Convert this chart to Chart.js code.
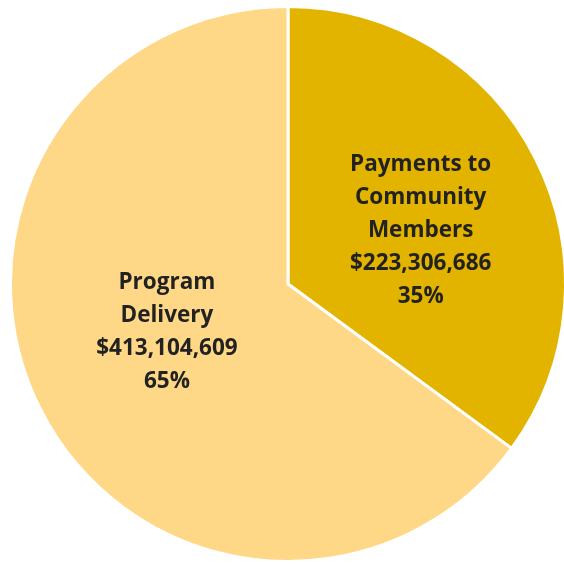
<!DOCTYPE html>
<html>
<head>
<meta charset="utf-8">
<script src="https://cdn.jsdelivr.net/npm/chart.js@4.4.0/dist/chart.umd.min.js"></script>
<style>
    html, body { margin: 0; padding: 0; background: #fff; overflow: hidden; width: 564px; height: 564px; }
    #wrap { position: absolute; left: 0; top: 0; width: 576px; height: 568px; }
</style>
</head>
<body>
<div id="wrap"><canvas id="pieChart"></canvas></div>
<script>
// 数据
const categories = [['Payments to', 'Community', 'Members'], ['Program', 'Delivery']];
const amounts = [223306686, 413104609];
const sliceColors = ['#E2B400', '#FED886'];
// 标签微调（沿半径比例，角度偏移度数）
const labelRadius = [0.515, 0.47];
const labelAngleShift = [5, 5];

function formatMoney(num) {
    return '$' + num.toString().replace(/\B(?=(\d{3})+(?!\d))/g, ",");
}

// 在扇区内绘制标签
const sliceLabels = {
    id: 'sliceLabels',
    afterDatasetsDraw(chart) {
        const ctx = chart.ctx;
        const meta = chart.getDatasetMeta(0);
        const total = amounts.reduce((a, b) => a + b, 0);
        ctx.save();
        ctx.font = 'bold 22.5px "Open Sans", sans-serif';
        ctx.fillStyle = '#222222';
        ctx.textAlign = 'center';
        ctx.textBaseline = 'middle';
        meta.data.forEach(function(arc, i) {
            const p = arc.getProps(['x', 'y', 'startAngle', 'endAngle', 'outerRadius']);
            const mid = (p.startAngle + p.endAngle) / 2 + labelAngleShift[i] * Math.PI / 180;
            const r = p.outerRadius * labelRadius[i];
            const cx = p.x + Math.cos(mid) * r;
            const cy = p.y + Math.sin(mid) * r;
            const lines = categories[i].concat([formatMoney(amounts[i]), Math.round(amounts[i] / total * 100) + '%']);
            const lh = 33;
            const y0 = cy - (lines.length - 1) * lh / 2;
            lines.forEach(function(line, j) {
                ctx.fillText(line, cx, y0 + j * lh);
            });
        });
        ctx.restore();
    }
};

const ctx = document.getElementById('pieChart').getContext('2d');
new Chart(ctx, {
    type: 'pie',
    data: {
        labels: categories.map(c => c.join(' ')),
        datasets: [{
            data: amounts,
            backgroundColor: sliceColors,
            borderColor: '#ffffff',
            borderWidth: 3
        }]
    },
    options: {
        responsive: true,
        maintainAspectRatio: false,
        animation: false,
        layout: { padding: 5 },
        plugins: {
            legend: { display: false },
            tooltip: { enabled: false }
        }
    },
    plugins: [sliceLabels]
});
</script>
</body>
</html>
